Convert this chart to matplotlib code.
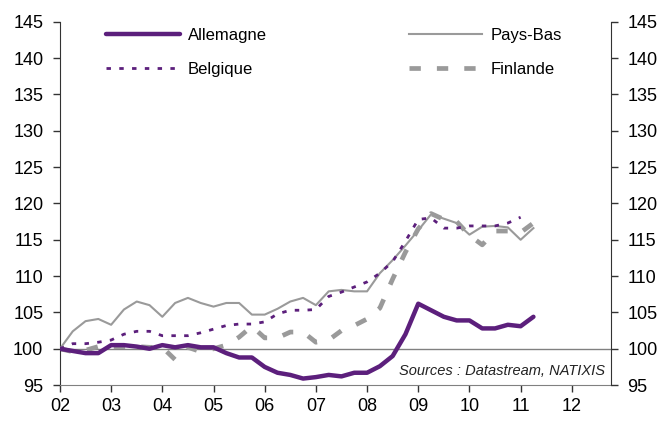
import numpy as np
import matplotlib
matplotlib.use('Agg')
import matplotlib.pyplot as plt

plt.rcParams['font.family'] = ['Liberation Sans', 'DejaVu Sans']

# quarterly dates, 2002Q1 -> 2011Q2
dates = 2002 + np.arange(38) * 0.25

allemagne = [100.0, 99.7, 99.4, 99.4, 100.5, 100.5, 100.3, 100.0, 100.5, 100.2,
             100.5, 100.2, 100.2, 99.4, 98.8, 98.8, 97.5, 96.7, 96.4, 95.9,
             96.1, 96.4, 96.2, 96.7, 96.7, 97.6, 99.0, 102.0, 106.2, 105.3,
             104.4, 103.9, 103.9, 102.8, 102.8, 103.3, 103.1, 104.4]

pays_bas = [100.0, 102.4, 103.8, 104.1, 103.3, 105.4, 106.5, 106.0, 104.4, 106.3,
            107.0, 106.3, 105.8, 106.3, 106.3, 104.7, 104.7, 105.5, 106.5, 107.0,
            106.0, 107.9, 108.1, 107.9, 107.9, 110.4, 112.2, 114.2, 116.3, 118.5,
            117.9, 117.3, 115.7, 116.8, 116.9, 116.7, 115.0, 116.6]

belgique = [100.0, 100.7, 100.7, 100.9, 101.2, 102.0, 102.4, 102.4, 101.8, 101.8,
            101.8, 102.2, 102.7, 103.2, 103.4, 103.4, 103.7, 104.8, 105.3, 105.3,
            105.4, 107.2, 107.8, 108.5, 109.2, 110.4, 112.0, 114.8, 117.8, 118.0,
            116.6, 116.6, 116.9, 116.9, 116.9, 117.3, 118.1]

finlande = [100.0, 99.6, 99.8, 100.3, 100.3, 100.3, 100.3, 100.2, 100.2, 98.5,
            100.2, 99.6, 100.0, 100.5, 101.6, 103.1, 101.5, 101.5, 102.3, 102.3,
            100.9, 101.2, 102.5, 103.2, 104.1, 105.6, 109.6, 113.3, 116.5, 118.6,
            117.8, 117.5, 115.6, 114.3, 116.2, 116.2, 116.0, 117.3]

years = [2002, 2003, 2004, 2005, 2006, 2007, 2008, 2009, 2010, 2011, 2012]
year_labels = ['02', '03', '04', '05', '06', '07', '08', '09', '10', '11', '12']
yticks = [95, 100, 105, 110, 115, 120, 125, 130, 135, 140, 145]

purple = '#5c1f7c'
grey = '#9a9a9a'

fig = plt.figure(figsize=(6.66, 4.26), dpi=100)
ax = fig.add_axes([0.090, 0.096, 0.827, 0.853])

ax.axhline(100, color='#808080', lw=1.0, zorder=1)

ax.plot(dates, pays_bas, color=grey, lw=1.5, label='Pays-Bas', zorder=3)
ax.plot(dates[:len(belgique)], belgique, color=purple, lw=2.0,
        dashes=(1.6, 3.0), label='Belgique', zorder=4)
ax.plot(dates, finlande, color=grey, lw=3.4, dashes=(2.4, 3.4),
        label='Finlande', zorder=2)
ax.plot(dates, allemagne, color=purple, lw=3.2, label='Allemagne', zorder=5,
        solid_capstyle='round')

ax.set_xlim(2002, 2012.76)
ax.set_ylim(95, 145)
ax.set_xticks(years)
ax.set_xticklabels(year_labels)
ax.set_yticks(yticks)

for s in ['top', 'right']:
    ax.spines[s].set_visible(False)
ax.spines['left'].set_color('#333333')
ax.spines['bottom'].set_color('#808080')
ax.tick_params(axis='y', direction='out', length=5, width=1, pad=7,
               labelsize=13, color='#333333')
ax.tick_params(axis='x', direction='out', length=5, width=1, pad=4,
               labelsize=13, color='#333333')

ax2 = ax.twinx()
ax2.set_ylim(95, 145)
ax2.set_yticks(yticks)
for s in ['top', 'left', 'bottom']:
    ax2.spines[s].set_visible(False)
ax2.spines['right'].set_color('#333333')
ax2.tick_params(axis='y', direction='out', length=5, width=1, pad=7,
                labelsize=13, color='#333333')

h, l = ax.get_legend_handles_labels()
order = [l.index('Allemagne'), l.index('Belgique'), l.index('Pays-Bas'), l.index('Finlande')]
leg = ax2.legend([h[i] for i in order], [l[i] for i in order], ncol=2,
                 loc='upper left', bbox_to_anchor=(0.057, 1.025), frameon=False,
                 fontsize=12, handlelength=4.4, handletextpad=0.5,
                 columnspacing=8.5, labelspacing=1.17)

ax.text(0.99, 0.04, 'Sources : Datastream, NATIXIS', transform=ax.transAxes,
        ha='right', va='center', fontsize=10.5, style='italic', color='#222222')

fig.savefig('out.png', dpi=100)
